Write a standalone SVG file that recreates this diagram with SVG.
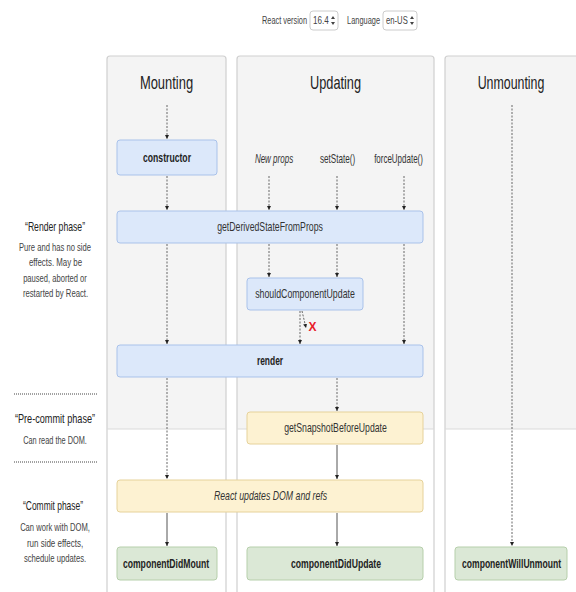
<svg xmlns="http://www.w3.org/2000/svg" width="576" height="592" viewBox="0 0 576 592">
<style>
text{font-family:"Liberation Sans",Arial,sans-serif;fill:#333}
.hdr{font-size:18px;fill:#222;text-anchor:middle}
.nt{font-size:12px;text-anchor:middle}
.b{font-weight:bold;fill:#222}
.it{font-style:italic}
.lt{font-size:12px;text-anchor:middle;fill:#222}
.ld{font-size:11px;text-anchor:middle;fill:#444}
.sm{font-size:10px;fill:#444}
.col{fill:none;stroke:#cfcfcf;stroke-width:1.2}
.bg{fill:#f4f4f4}
.blue{fill:#dce8fa;stroke:#a9c2ea;stroke-width:1}
.yel{fill:#fdf2d2;stroke:#e6d29a;stroke-width:1}
.grn{fill:#dbe8d6;stroke:#b6cfab;stroke-width:1}
.d{stroke:#666;stroke-width:1;stroke-dasharray:2 1.5;fill:none}
.s{stroke:#555;stroke-width:1;fill:none}
.sep{stroke:#444;stroke-width:1;stroke-dasharray:1 1}
</style>
<defs>
<marker id="ah" viewBox="0 0 6 6" refX="6" refY="3" markerWidth="4" markerHeight="5" markerUnits="userSpaceOnUse" orient="auto">
<path d="M0,0 L6,3 L0,6 z" fill="#222"/>
</marker>
</defs>
<rect width="576" height="592" fill="#fff"/>

<g id="controls">
<text class="sm" text-anchor="middle" transform="translate(284.5,24) scale(0.75,1)" textLength="60" lengthAdjust="spacingAndGlyphs">React version</text>
<rect x="310" y="11" width="28" height="19" rx="3" fill="#fff" stroke="#ccc"/>
<text class="sm" transform="translate(313,24) scale(0.75,1)" textLength="21" lengthAdjust="spacingAndGlyphs">16.4</text>
<path d="M331,19 l2,-3 l2,3 z M331,22 l2,3 l2,-3 z" fill="#444"/>
<text class="sm" text-anchor="middle" transform="translate(363.5,24) scale(0.75,1)" textLength="44" lengthAdjust="spacingAndGlyphs">Language</text>
<rect x="383" y="11" width="34" height="19" rx="3" fill="#fff" stroke="#ccc"/>
<text class="sm" transform="translate(386,24) scale(0.75,1)" textLength="29" lengthAdjust="spacingAndGlyphs">en-US</text>
<path d="M410,19 l2,-3 l2,3 z M410,22 l2,3 l2,-3 z" fill="#444"/>
</g>

<g id="columns">
<path class="bg" d="M107,429 V59 Q107,56 110,56 H223 Q226,56 226,59 V429 Z"/>
<path class="bg" d="M237,429 V59 Q237,56 240,56 H431 Q434,56 434,59 V429 Z"/>
<path class="bg" d="M445,429 V59 Q445,56 448,56 H590 V429 Z"/>
<path class="col" d="M107,592 V59 Q107,56 110,56 H223 Q226,56 226,59 V592"/>
<path class="col" d="M237,592 V59 Q237,56 240,56 H431 Q434,56 434,59 V592"/>
<path class="col" d="M445,592 V59 Q445,56 448,56 H590"/>
<line x1="107" y1="429" x2="226" y2="429" stroke="#dadada"/>
<line x1="237" y1="429" x2="434" y2="429" stroke="#dadada"/>
<line x1="445" y1="429" x2="576" y2="429" stroke="#dadada"/>
<text class="hdr" transform="translate(166.5,89) scale(0.75,1)" textLength="71" lengthAdjust="spacingAndGlyphs">Mounting</text>
<text class="hdr" transform="translate(335.5,89) scale(0.75,1)" textLength="68" lengthAdjust="spacingAndGlyphs">Updating</text>
<text class="hdr" transform="translate(511,89) scale(0.75,1)" textLength="89" lengthAdjust="spacingAndGlyphs">Unmounting</text>
</g>

<g id="phases">
<text class="lt" transform="translate(55,231) scale(0.75,1)" textLength="80" lengthAdjust="spacingAndGlyphs">“Render phase”</text>
<text class="ld" transform="translate(55,251) scale(0.75,1)" textLength="96" lengthAdjust="spacingAndGlyphs">Pure and has no side</text>
<text class="ld" transform="translate(55.5,266) scale(0.75,1)" textLength="71" lengthAdjust="spacingAndGlyphs">effects. May be</text>
<text class="ld" transform="translate(55,282) scale(0.75,1)" textLength="85" lengthAdjust="spacingAndGlyphs">paused, aborted or</text>
<text class="ld" transform="translate(55.5,297) scale(0.75,1)" textLength="87" lengthAdjust="spacingAndGlyphs">restarted by React.</text>
<line class="sep" x1="14" y1="394" x2="97" y2="394"/>
<text class="lt" transform="translate(55,423) scale(0.75,1)" textLength="107" lengthAdjust="spacingAndGlyphs">“Pre-commit phase”</text>
<text class="ld" transform="translate(55,444) scale(0.75,1)" textLength="85" lengthAdjust="spacingAndGlyphs">Can read the DOM.</text>
<line class="sep" x1="14" y1="462" x2="97" y2="462"/>
<text class="lt" transform="translate(53,510) scale(0.75,1)" textLength="80" lengthAdjust="spacingAndGlyphs">“Commit phase”</text>
<text class="ld" transform="translate(55,531) scale(0.75,1)" textLength="93" lengthAdjust="spacingAndGlyphs">Can work with DOM,</text>
<text class="ld" transform="translate(55,547) scale(0.75,1)" textLength="75" lengthAdjust="spacingAndGlyphs">run side effects,</text>
<text class="ld" transform="translate(55,562) scale(0.75,1)" textLength="83" lengthAdjust="spacingAndGlyphs">schedule updates.</text>
</g>

<g id="triggers">
<text class="nt it" transform="translate(274,163) scale(0.75,1)" textLength="51" lengthAdjust="spacingAndGlyphs">New props</text>
<text class="nt" transform="translate(337.5,163) scale(0.75,1)" textLength="47" lengthAdjust="spacingAndGlyphs">setState()</text>
<text class="nt" transform="translate(398.5,163) scale(0.75,1)" textLength="65" lengthAdjust="spacingAndGlyphs">forceUpdate()</text>
</g>

<g id="connectors">
<line class="d" x1="167" y1="105" x2="167" y2="139" marker-end="url(#ah)"/>
<line class="d" x1="167" y1="176" x2="167" y2="210" marker-end="url(#ah)"/>
<line class="d" x1="167" y1="244" x2="167" y2="344" marker-end="url(#ah)"/>
<line class="d" x1="167" y1="378" x2="167" y2="479" marker-end="url(#ah)"/>
<line class="s" x1="167" y1="513" x2="167" y2="546" marker-end="url(#ah)"/>
<line class="d" x1="269" y1="176" x2="269" y2="210" marker-end="url(#ah)"/>
<line class="d" x1="337" y1="176" x2="337" y2="210" marker-end="url(#ah)"/>
<line class="d" x1="404" y1="176" x2="404" y2="210" marker-end="url(#ah)"/>
<line class="d" x1="269" y1="244" x2="269" y2="277" marker-end="url(#ah)"/>
<line class="d" x1="337" y1="244" x2="337" y2="277" marker-end="url(#ah)"/>
<line class="d" x1="404" y1="244" x2="404" y2="344" marker-end="url(#ah)"/>
<line class="d" x1="300" y1="311" x2="300" y2="344" marker-end="url(#ah)"/>
<line class="d" x1="302" y1="311" x2="306" y2="328" marker-end="url(#ah)"/>
<line class="d" x1="337" y1="378" x2="337" y2="411" marker-end="url(#ah)"/>
<line class="s" x1="337" y1="445" x2="337" y2="479" marker-end="url(#ah)"/>
<line class="s" x1="337" y1="513" x2="337" y2="546" marker-end="url(#ah)"/>
<line class="d" x1="512" y1="105" x2="512" y2="546" marker-end="url(#ah)"/>
<text x="312.5" y="331" font-size="12" font-weight="bold" style="fill:#e8202a" text-anchor="middle">X</text>
</g>

<g id="constructor">
<rect class="blue" x="117" y="140" width="100" height="35" rx="3"/>
<text class="nt b" transform="translate(167,162) scale(0.75,1)" textLength="64" lengthAdjust="spacingAndGlyphs">constructor</text>
</g>
<g id="getDerivedStateFromProps">
<rect class="blue" x="117" y="211" width="306" height="32" rx="3"/>
<text class="nt" transform="translate(270,231) scale(0.75,1)" textLength="141" lengthAdjust="spacingAndGlyphs">getDerivedStateFromProps</text>
</g>
<g id="shouldComponentUpdate">
<rect class="blue" x="247" y="278" width="116" height="32" rx="3"/>
<text class="nt" transform="translate(305,298) scale(0.75,1)" textLength="133" lengthAdjust="spacingAndGlyphs">shouldComponentUpdate</text>
</g>
<g id="render">
<rect class="blue" x="117" y="345" width="306" height="32" rx="3"/>
<text class="nt b" transform="translate(270,365) scale(0.75,1)" textLength="35" lengthAdjust="spacingAndGlyphs">render</text>
</g>
<g id="getSnapshotBeforeUpdate">
<rect class="yel" x="247" y="412" width="176" height="32" rx="3"/>
<text class="nt" transform="translate(335.5,432) scale(0.75,1)" textLength="137" lengthAdjust="spacingAndGlyphs">getSnapshotBeforeUpdate</text>
</g>
<g id="reactUpdatesDOM">
<rect class="yel" x="117" y="480" width="306" height="32" rx="3"/>
<text class="nt it" transform="translate(270.5,500) scale(0.75,1)" textLength="151" lengthAdjust="spacingAndGlyphs">React updates DOM and refs</text>
</g>
<g id="componentDidMount">
<rect class="grn" x="117" y="547" width="100" height="33" rx="3"/>
<text class="nt b" transform="translate(166,568) scale(0.75,1)" textLength="115" lengthAdjust="spacingAndGlyphs">componentDidMount</text>
</g>
<g id="componentDidUpdate">
<rect class="grn" x="247" y="547" width="176" height="33" rx="3"/>
<text class="nt b" transform="translate(336,568) scale(0.75,1)" textLength="120" lengthAdjust="spacingAndGlyphs">componentDidUpdate</text>
</g>
<g id="componentWillUnmount">
<rect class="grn" x="455" y="547" width="112" height="33" rx="3"/>
<text class="nt b" transform="translate(511.5,568) scale(0.75,1)" textLength="132" lengthAdjust="spacingAndGlyphs">componentWillUnmount</text>
</g>
</svg>
